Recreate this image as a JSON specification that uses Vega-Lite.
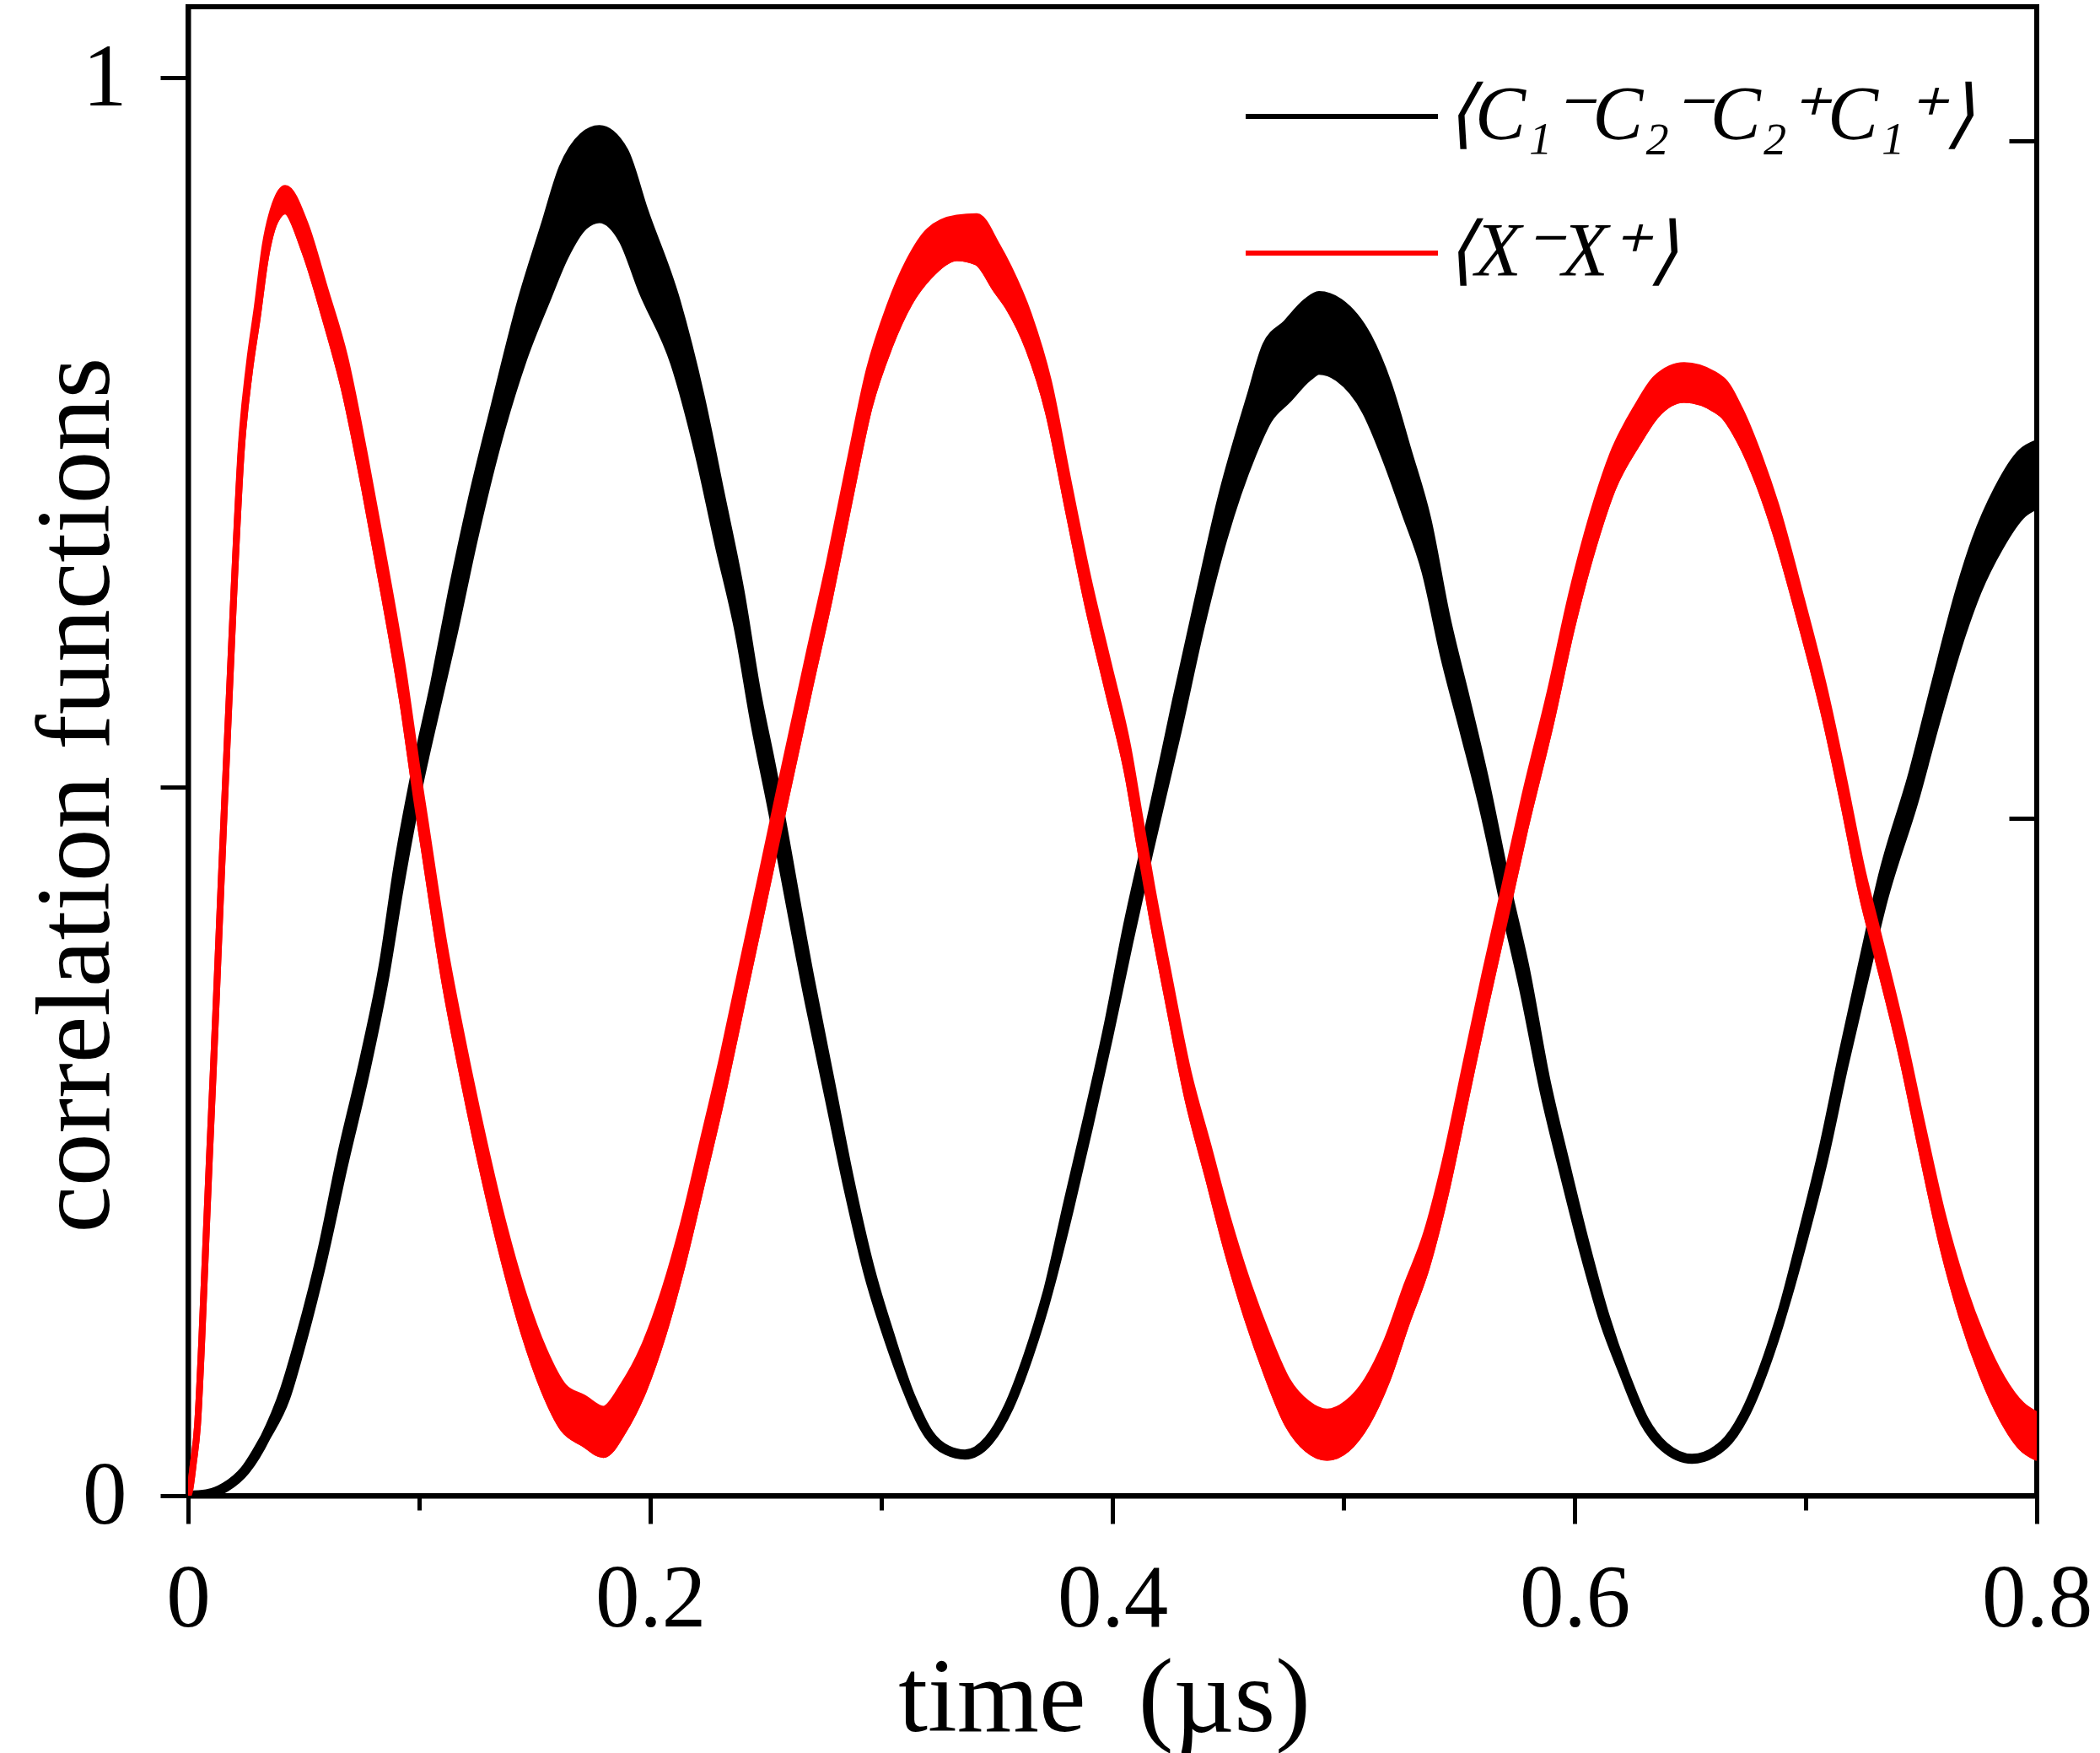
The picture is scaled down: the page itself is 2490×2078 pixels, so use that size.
{
  "$schema": "https://vega.github.io/schema/vega-lite/v6.json",
  "width": 2192,
  "height": 1765,
  "autosize": {"type": "none"},
  "padding": {"left": 223, "top": 8, "right": 75, "bottom": 305},
  "background": "white",
  "config": {
    "view": {"stroke": "black", "strokeWidth": 6},
    "axis": {
      "grid": false,
      "labelFont": "Liberation Serif",
      "titleFont": "Liberation Serif",
      "labelFontSize": 105,
      "titleFontSize": 125,
      "titleFontWeight": "normal",
      "labelColor": "black",
      "titleColor": "black",
      "domainColor": "black",
      "tickColor": "black",
      "domainWidth": 6,
      "tickWidth": 5
    }
  },
  "data": {
    "values": [
      {"s": "C", "t": 0, "lo": 0, "hi": 0},
      {"s": "C", "t": 0.008, "lo": 0.001, "hi": 0.001},
      {"s": "C", "t": 0.0161, "lo": 0.006, "hi": 0.006},
      {"s": "C", "t": 0.0247, "lo": 0.018, "hi": 0.018},
      {"s": "C", "t": 0.0334, "lo": 0.041, "hi": 0.041},
      {"s": "C", "t": 0.042, "lo": 0.069, "hi": 0.075},
      {"s": "C", "t": 0.048, "lo": 0.102, "hi": 0.108},
      {"s": "C", "t": 0.0583, "lo": 0.168, "hi": 0.174},
      {"s": "C", "t": 0.0669, "lo": 0.232, "hi": 0.242},
      {"s": "C", "t": 0.0764, "lo": 0.298, "hi": 0.308},
      {"s": "C", "t": 0.085, "lo": 0.367, "hi": 0.377},
      {"s": "C", "t": 0.0911, "lo": 0.428, "hi": 0.444},
      {"s": "C", "t": 0.0985, "lo": 0.493, "hi": 0.509},
      {"s": "C", "t": 0.1071, "lo": 0.556, "hi": 0.574},
      {"s": "C", "t": 0.1146, "lo": 0.609, "hi": 0.637},
      {"s": "C", "t": 0.1233, "lo": 0.675, "hi": 0.703},
      {"s": "C", "t": 0.1332, "lo": 0.741, "hi": 0.769},
      {"s": "C", "t": 0.1444, "lo": 0.801, "hi": 0.841},
      {"s": "C", "t": 0.1548, "lo": 0.844, "hi": 0.896},
      {"s": "C", "t": 0.1625, "lo": 0.874, "hi": 0.936},
      {"s": "C", "t": 0.1711, "lo": 0.896, "hi": 0.958},
      {"s": "C", "t": 0.178, "lo": 0.901, "hi": 0.963},
      {"s": "C", "t": 0.1884, "lo": 0.886, "hi": 0.948},
      {"s": "C", "t": 0.197, "lo": 0.85, "hi": 0.906},
      {"s": "C", "t": 0.2108, "lo": 0.799, "hi": 0.843},
      {"s": "C", "t": 0.2214, "lo": 0.735, "hi": 0.775},
      {"s": "C", "t": 0.23, "lo": 0.671, "hi": 0.707},
      {"s": "C", "t": 0.2387, "lo": 0.609, "hi": 0.637},
      {"s": "C", "t": 0.2455, "lo": 0.545, "hi": 0.569},
      {"s": "C", "t": 0.2524, "lo": 0.489, "hi": 0.513},
      {"s": "C", "t": 0.269, "lo": 0.348, "hi": 0.364},
      {"s": "C", "t": 0.2776, "lo": 0.281, "hi": 0.293},
      {"s": "C", "t": 0.2862, "lo": 0.214, "hi": 0.222},
      {"s": "C", "t": 0.2948, "lo": 0.155, "hi": 0.161},
      {"s": "C", "t": 0.3034, "lo": 0.11, "hi": 0.114},
      {"s": "C", "t": 0.312, "lo": 0.072, "hi": 0.072},
      {"s": "C", "t": 0.3207, "lo": 0.043, "hi": 0.043},
      {"s": "C", "t": 0.3285, "lo": 0.032, "hi": 0.032},
      {"s": "C", "t": 0.3362, "lo": 0.029, "hi": 0.029},
      {"s": "C", "t": 0.3465, "lo": 0.039, "hi": 0.039},
      {"s": "C", "t": 0.3551, "lo": 0.0625, "hi": 0.0625},
      {"s": "C", "t": 0.3637, "lo": 0.099, "hi": 0.099},
      {"s": "C", "t": 0.3723, "lo": 0.145, "hi": 0.145},
      {"s": "C", "t": 0.381, "lo": 0.201, "hi": 0.207},
      {"s": "C", "t": 0.3896, "lo": 0.261, "hi": 0.267},
      {"s": "C", "t": 0.3982, "lo": 0.324, "hi": 0.33},
      {"s": "C", "t": 0.4068, "lo": 0.39, "hi": 0.402},
      {"s": "C", "t": 0.4154, "lo": 0.453, "hi": 0.465},
      {"s": "C", "t": 0.4226, "lo": 0.503, "hi": 0.519},
      {"s": "C", "t": 0.4279, "lo": 0.54, "hi": 0.56},
      {"s": "C", "t": 0.4378, "lo": 0.613, "hi": 0.633},
      {"s": "C", "t": 0.4476, "lo": 0.675, "hi": 0.703},
      {"s": "C", "t": 0.4602, "lo": 0.735, "hi": 0.775},
      {"s": "C", "t": 0.467, "lo": 0.759, "hi": 0.811},
      {"s": "C", "t": 0.4757, "lo": 0.774, "hi": 0.826},
      {"s": "C", "t": 0.4843, "lo": 0.789, "hi": 0.841},
      {"s": "C", "t": 0.4894, "lo": 0.794, "hi": 0.846},
      {"s": "C", "t": 0.498, "lo": 0.789, "hi": 0.841},
      {"s": "C", "t": 0.5101, "lo": 0.765, "hi": 0.817},
      {"s": "C", "t": 0.5187, "lo": 0.732, "hi": 0.784},
      {"s": "C", "t": 0.5273, "lo": 0.693, "hi": 0.737},
      {"s": "C", "t": 0.5359, "lo": 0.652, "hi": 0.688},
      {"s": "C", "t": 0.544, "lo": 0.592, "hi": 0.62},
      {"s": "C", "t": 0.5526, "lo": 0.538, "hi": 0.562},
      {"s": "C", "t": 0.5604, "lo": 0.488, "hi": 0.508},
      {"s": "C", "t": 0.5707, "lo": 0.411, "hi": 0.427},
      {"s": "C", "t": 0.5785, "lo": 0.355, "hi": 0.371},
      {"s": "C", "t": 0.5871, "lo": 0.285, "hi": 0.295},
      {"s": "C", "t": 0.5957, "lo": 0.227, "hi": 0.235},
      {"s": "C", "t": 0.6043, "lo": 0.172, "hi": 0.178},
      {"s": "C", "t": 0.6129, "lo": 0.123, "hi": 0.127},
      {"s": "C", "t": 0.6215, "lo": 0.086, "hi": 0.086},
      {"s": "C", "t": 0.6302, "lo": 0.0525, "hi": 0.0525},
      {"s": "C", "t": 0.6388, "lo": 0.0345, "hi": 0.0345},
      {"s": "C", "t": 0.6508, "lo": 0.026, "hi": 0.026},
      {"s": "C", "t": 0.6646, "lo": 0.036, "hi": 0.036},
      {"s": "C", "t": 0.6732, "lo": 0.056, "hi": 0.056},
      {"s": "C", "t": 0.6818, "lo": 0.089, "hi": 0.089},
      {"s": "C", "t": 0.6904, "lo": 0.132, "hi": 0.132},
      {"s": "C", "t": 0.699, "lo": 0.182, "hi": 0.186},
      {"s": "C", "t": 0.7077, "lo": 0.238, "hi": 0.244},
      {"s": "C", "t": 0.7163, "lo": 0.303, "hi": 0.311},
      {"s": "C", "t": 0.7249, "lo": 0.363, "hi": 0.375},
      {"s": "C", "t": 0.7335, "lo": 0.421, "hi": 0.437},
      {"s": "C", "t": 0.7469, "lo": 0.491, "hi": 0.511},
      {"s": "C", "t": 0.7559, "lo": 0.545, "hi": 0.569},
      {"s": "C", "t": 0.7671, "lo": 0.607, "hi": 0.639},
      {"s": "C", "t": 0.774, "lo": 0.638, "hi": 0.674},
      {"s": "C", "t": 0.7834, "lo": 0.669, "hi": 0.709},
      {"s": "C", "t": 0.7937, "lo": 0.693, "hi": 0.735},
      {"s": "C", "t": 0.8, "lo": 0.699, "hi": 0.741},

      {"s": "X", "t": 0, "lo": 0, "hi": 0},
      {"s": "X", "t": 0.0006, "lo": 0.003, "hi": 0.003},
      {"s": "X", "t": 0.0023, "lo": 0.023, "hi": 0.023},
      {"s": "X", "t": 0.0041, "lo": 0.05, "hi": 0.05},
      {"s": "X", "t": 0.0058, "lo": 0.105, "hi": 0.105},
      {"s": "X", "t": 0.0075, "lo": 0.171, "hi": 0.171},
      {"s": "X", "t": 0.0092, "lo": 0.237, "hi": 0.237},
      {"s": "X", "t": 0.011, "lo": 0.303, "hi": 0.303},
      {"s": "X", "t": 0.0127, "lo": 0.369, "hi": 0.369},
      {"s": "X", "t": 0.0144, "lo": 0.436, "hi": 0.436},
      {"s": "X", "t": 0.0161, "lo": 0.5, "hi": 0.5},
      {"s": "X", "t": 0.0196, "lo": 0.629, "hi": 0.629},
      {"s": "X", "t": 0.023, "lo": 0.736, "hi": 0.74},
      {"s": "X", "t": 0.0265, "lo": 0.792, "hi": 0.798},
      {"s": "X", "t": 0.0299, "lo": 0.83, "hi": 0.838},
      {"s": "X", "t": 0.0334, "lo": 0.872, "hi": 0.882},
      {"s": "X", "t": 0.0377, "lo": 0.899, "hi": 0.911},
      {"s": "X", "t": 0.042, "lo": 0.906, "hi": 0.922},
      {"s": "X", "t": 0.0506, "lo": 0.877, "hi": 0.897},
      {"s": "X", "t": 0.0592, "lo": 0.831, "hi": 0.851},
      {"s": "X", "t": 0.0678, "lo": 0.779, "hi": 0.803},
      {"s": "X", "t": 0.0764, "lo": 0.71, "hi": 0.734},
      {"s": "X", "t": 0.085, "lo": 0.634, "hi": 0.658},
      {"s": "X", "t": 0.0936, "lo": 0.552, "hi": 0.576},
      {"s": "X", "t": 0.0988, "lo": 0.492, "hi": 0.516},
      {"s": "X", "t": 0.1022, "lo": 0.456, "hi": 0.48},
      {"s": "X", "t": 0.1109, "lo": 0.364, "hi": 0.388},
      {"s": "X", "t": 0.1195, "lo": 0.291, "hi": 0.315},
      {"s": "X", "t": 0.1281, "lo": 0.225, "hi": 0.249},
      {"s": "X", "t": 0.1367, "lo": 0.166, "hi": 0.19},
      {"s": "X", "t": 0.1453, "lo": 0.115, "hi": 0.141},
      {"s": "X", "t": 0.1539, "lo": 0.075, "hi": 0.103},
      {"s": "X", "t": 0.1625, "lo": 0.047, "hi": 0.077},
      {"s": "X", "t": 0.1711, "lo": 0.037, "hi": 0.069},
      {"s": "X", "t": 0.1797, "lo": 0.029, "hi": 0.061},
      {"s": "X", "t": 0.1884, "lo": 0.046, "hi": 0.078},
      {"s": "X", "t": 0.197, "lo": 0.074, "hi": 0.104},
      {"s": "X", "t": 0.2056, "lo": 0.114, "hi": 0.142},
      {"s": "X", "t": 0.2142, "lo": 0.165, "hi": 0.191},
      {"s": "X", "t": 0.2228, "lo": 0.224, "hi": 0.25},
      {"s": "X", "t": 0.2314, "lo": 0.284, "hi": 0.31},
      {"s": "X", "t": 0.24, "lo": 0.35, "hi": 0.376},
      {"s": "X", "t": 0.2487, "lo": 0.416, "hi": 0.442},
      {"s": "X", "t": 0.2573, "lo": 0.482, "hi": 0.508},
      {"s": "X", "t": 0.269, "lo": 0.57, "hi": 0.596},
      {"s": "X", "t": 0.2776, "lo": 0.633, "hi": 0.659},
      {"s": "X", "t": 0.2862, "lo": 0.702, "hi": 0.728},
      {"s": "X", "t": 0.2948, "lo": 0.768, "hi": 0.794},
      {"s": "X", "t": 0.3034, "lo": 0.81, "hi": 0.838},
      {"s": "X", "t": 0.3121, "lo": 0.841, "hi": 0.871},
      {"s": "X", "t": 0.3207, "lo": 0.86, "hi": 0.892},
      {"s": "X", "t": 0.3327, "lo": 0.873, "hi": 0.901},
      {"s": "X", "t": 0.3413, "lo": 0.87, "hi": 0.902},
      {"s": "X", "t": 0.3499, "lo": 0.85, "hi": 0.882},
      {"s": "X", "t": 0.3551, "lo": 0.838, "hi": 0.866},
      {"s": "X", "t": 0.3637, "lo": 0.809, "hi": 0.833},
      {"s": "X", "t": 0.3723, "lo": 0.764, "hi": 0.786},
      {"s": "X", "t": 0.3809, "lo": 0.695, "hi": 0.715},
      {"s": "X", "t": 0.3896, "lo": 0.626, "hi": 0.646},
      {"s": "X", "t": 0.3982, "lo": 0.567, "hi": 0.587},
      {"s": "X", "t": 0.4068, "lo": 0.507, "hi": 0.527},
      {"s": "X", "t": 0.4119, "lo": 0.458, "hi": 0.478},
      {"s": "X", "t": 0.4171, "lo": 0.409, "hi": 0.429},
      {"s": "X", "t": 0.424, "lo": 0.35, "hi": 0.37},
      {"s": "X", "t": 0.4326, "lo": 0.28, "hi": 0.3},
      {"s": "X", "t": 0.4412, "lo": 0.226, "hi": 0.248},
      {"s": "X", "t": 0.4498, "lo": 0.172, "hi": 0.196},
      {"s": "X", "t": 0.4584, "lo": 0.125, "hi": 0.151},
      {"s": "X", "t": 0.467, "lo": 0.085, "hi": 0.113},
      {"s": "X", "t": 0.4757, "lo": 0.051, "hi": 0.081},
      {"s": "X", "t": 0.4843, "lo": 0.033, "hi": 0.065},
      {"s": "X", "t": 0.4929, "lo": 0.027, "hi": 0.059},
      {"s": "X", "t": 0.5015, "lo": 0.033, "hi": 0.065},
      {"s": "X", "t": 0.5101, "lo": 0.051, "hi": 0.081},
      {"s": "X", "t": 0.5187, "lo": 0.081, "hi": 0.109},
      {"s": "X", "t": 0.5273, "lo": 0.122, "hi": 0.148},
      {"s": "X", "t": 0.5359, "lo": 0.161, "hi": 0.185},
      {"s": "X", "t": 0.544, "lo": 0.212, "hi": 0.236},
      {"s": "X", "t": 0.5526, "lo": 0.278, "hi": 0.302},
      {"s": "X", "t": 0.5612, "lo": 0.344, "hi": 0.368},
      {"s": "X", "t": 0.5699, "lo": 0.407, "hi": 0.431},
      {"s": "X", "t": 0.5785, "lo": 0.47, "hi": 0.494},
      {"s": "X", "t": 0.5897, "lo": 0.545, "hi": 0.569},
      {"s": "X", "t": 0.5986, "lo": 0.611, "hi": 0.635},
      {"s": "X", "t": 0.6095, "lo": 0.677, "hi": 0.701},
      {"s": "X", "t": 0.6164, "lo": 0.71, "hi": 0.734},
      {"s": "X", "t": 0.6271, "lo": 0.742, "hi": 0.768},
      {"s": "X", "t": 0.6353, "lo": 0.762, "hi": 0.788},
      {"s": "X", "t": 0.6474, "lo": 0.773, "hi": 0.797},
      {"s": "X", "t": 0.6637, "lo": 0.763, "hi": 0.787},
      {"s": "X", "t": 0.6715, "lo": 0.744, "hi": 0.766},
      {"s": "X", "t": 0.6801, "lo": 0.712, "hi": 0.732},
      {"s": "X", "t": 0.687, "lo": 0.679, "hi": 0.699},
      {"s": "X", "t": 0.6982, "lo": 0.614, "hi": 0.632},
      {"s": "X", "t": 0.7085, "lo": 0.548, "hi": 0.566},
      {"s": "X", "t": 0.7159, "lo": 0.492, "hi": 0.51},
      {"s": "X", "t": 0.7249, "lo": 0.42, "hi": 0.438},
      {"s": "X", "t": 0.73, "lo": 0.387, "hi": 0.405},
      {"s": "X", "t": 0.7419, "lo": 0.308, "hi": 0.326},
      {"s": "X", "t": 0.7505, "lo": 0.241, "hi": 0.261},
      {"s": "X", "t": 0.7591, "lo": 0.177, "hi": 0.199},
      {"s": "X", "t": 0.7677, "lo": 0.126, "hi": 0.15},
      {"s": "X", "t": 0.7763, "lo": 0.086, "hi": 0.112},
      {"s": "X", "t": 0.7849, "lo": 0.055, "hi": 0.083},
      {"s": "X", "t": 0.7935, "lo": 0.034, "hi": 0.064},
      {"s": "X", "t": 0.8, "lo": 0.027, "hi": 0.057}
    ]
  },
  "layer": [
    {
      "layer": [
        {
          "mark": {"type": "line", "strokeWidth": 8, "interpolate": "monotone", "clip": true},
          "encoding": {
            "x": {
              "field": "t", "type": "quantitative",
              "scale": {"domain": [0, 0.8], "nice": false},
              "axis": {
                "values": [0, 0.2, 0.4, 0.6, 0.8],
                "labelExpr": "datum.value == 0 ? '0' : format(datum.value, '.1f')",
                "labelFlush": false,
                "tickSize": 33,
                "labelPadding": 38,
                "title": "time\u00a0\u00a0(µs)",
                "titleX": 1086,
                "titleY": 278,
                "titleBaseline": "alphabetic"
              }
            },
            "y": {
              "field": "lo", "type": "quantitative",
              "scale": {"domain": [0, 1.05], "nice": false},
              "axis": {
                "values": [0, 0.5, 1],
                "labelExpr": "datum.value == 0.5 ? '' : format(datum.value, 'd')",
                "tickSize": 33,
                "labelPadding": 40,
                "title": "correlation functions",
                "titleX": -95,
                "titleY": 934,
                "titleAlign": "center",
                "titleBaseline": "alphabetic"
              }
            },
            "color": {
              "field": "s", "type": "nominal",
              "scale": {"domain": ["C", "X"], "range": ["#000000", "#ff0000"]},
              "legend": {
                "orient": "none",
                "legendX": 1251,
                "legendY": 13,
                "title": null,
                "padding": 0,
                "symbolType": "stroke",
                "symbolSize": 51984,
                "symbolStrokeWidth": 6,
                "labelFont": "Liberation Serif",
                "labelFontSize": 90,
                "labelFontStyle": "italic",
                "labelColor": "black",
                "labelOffset": 6,
                "labelLimit": 0,
                "rowPadding": -54,
                "labelExpr": "datum.value == 'C' ? '⟨C₁⁻C₂⁻C₂⁺C₁⁺⟩' : '⟨X⁻X⁺⟩'"
              }
            }
          }
        },
        {
          "transform": [{"filter": "datum.s == 'C'"}],
          "mark": {"type": "area", "fill": "#000000", "stroke": "#000000", "strokeWidth": 12, "strokeJoin": "round", "interpolate": "monotone", "clip": true, "fillOpacity": 1},
          "encoding": {
            "x": {"field": "t", "type": "quantitative"},
            "y": {"field": "hi", "type": "quantitative"},
            "y2": {"field": "lo"}
          }
        },
        {
          "transform": [{"filter": "datum.s == 'X'"}],
          "mark": {"type": "area", "fill": "#ff0000", "stroke": "#ff0000", "strokeWidth": 8, "strokeJoin": "round", "interpolate": "monotone", "clip": true, "fillOpacity": 1},
          "encoding": {
            "x": {"field": "t", "type": "quantitative"},
            "y": {"field": "hi", "type": "quantitative"},
            "y2": {"field": "lo"}
          }
        }
      ]
    },
    {
      "mark": {"type": "point", "opacity": 0},
      "encoding": {
        "x": {
          "field": "t", "type": "quantitative",
          "scale": {"domain": [0, 0.8], "nice": false},
          "axis": {"orient": "bottom", "values": [0.1, 0.3, 0.5, 0.7], "tickSize": 17, "labels": false, "domain": false, "title": null}
        },
        "y": {
          "field": "lo", "type": "quantitative",
          "scale": {"domain": [0, 1.099], "nice": false},
          "axis": {"orient": "right", "values": [0, 0.5, 1], "tickSize": -33, "labels": false, "domain": false, "title": null}
        }
      }
    }
  ],
  "resolve": {"scale": {"y": "independent"}, "axis": {"x": "independent", "y": "independent"}}
}
